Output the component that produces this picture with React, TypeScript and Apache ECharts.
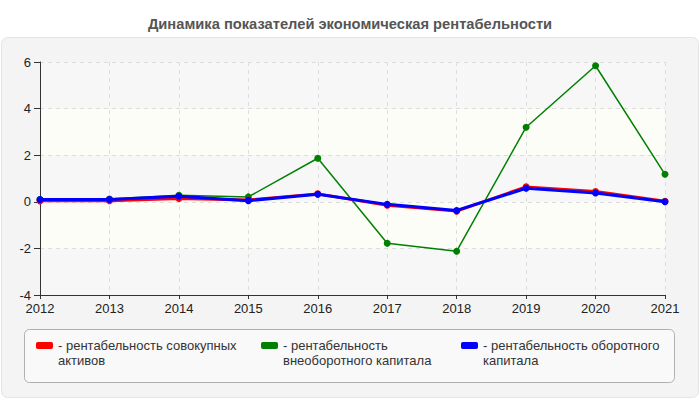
import { useEffect, useRef } from "react"
import * as echarts from "echarts"

const years = ["2012", "2013", "2014", "2015", "2016", "2017", "2018", "2019", "2020", "2021"]

const assetsReturn = [0.04, 0.05, 0.14, 0.08, 0.34, -0.15, -0.4, 0.64, 0.44, 0.02]
const fixedCapitalReturn = [0.1, 0.12, 0.28, 0.21, 1.87, -1.78, -2.12, 3.2, 5.84, 1.18]
const workingCapitalReturn = [0.1, 0.1, 0.24, 0.05, 0.32, -0.11, -0.37, 0.58, 0.38, 0.0]

const seriesNames = [
  "рентабельность совокупных активов",
  "рентабельность внеоборотного капитала",
  "рентабельность оборотного капитала",
]
const legendLabels = [
  " \n- рентабельность совокупных\nактивов",
  " \n- рентабельность\nвнеоборотного капитала",
  " \n- рентабельность оборотного\nкапитала",
]
const colors = ["#ff0000", "#008000", "#0000ff"]
const legendLeft = [31, 256, 456]

export default function App() {
  const chartRef = useRef<HTMLDivElement>(null)

  useEffect(() => {
    document.body.style.margin = "0"
    if (!chartRef.current) return
    const chart = echarts.init(chartRef.current, null, { renderer: "svg" })

    const font = "'Liberation Sans', Arial, sans-serif"

    // one legend per series so each item can sit where the reference has it
    const legends = seriesNames.map((name, i) => ({
      data: [name],
      left: legendLeft[i],
      top: 318,
      orient: "horizontal" as const,
      itemWidth: 17,
      itemHeight: 7,
      itemGap: 5,
      icon: "roundRect",
      selectedMode: false,
      formatter: () => legendLabels[i],
      textStyle: {
        color: "#333",
        fontSize: 13,
        fontFamily: font,
        lineHeight: 15,
      },
    }))

    const makeSeries = (name: string, data: number[], color: string, width: number, z: number) => ({
      name,
      type: "line" as const,
      data,
      z,
      symbol: "circle",
      symbolSize: 7,
      itemStyle: { color },
      lineStyle: { color, width },
    })

    const option: echarts.EChartsOption = {
      animation: false,
      backgroundColor: "#ffffff",
      textStyle: { fontFamily: font },
      title: {
        text: "Динамика показателей экономическая рентабельности",
        left: "center",
        top: 11,
        textStyle: {
          color: "#555",
          fontSize: 14.7,
          fontWeight: "bold",
          fontFamily: font,
        },
      },
      graphic: [
        {
          type: "rect",
          z: -10,
          silent: true,
          shape: { x: 1.5, y: 37.5, width: 697, height: 360, r: 6 },
          style: { fill: "#f4f4f4", stroke: "#e4e4e4", lineWidth: 1 },
        },
        {
          type: "rect",
          z: -9,
          silent: true,
          shape: { x: 24.5, y: 329.5, width: 650, height: 53, r: 5 },
          style: { fill: "#f9f9f9", stroke: "#b0b0b0", lineWidth: 1 },
        },
      ],
      legend: legends,
      grid: {
        left: 40,
        right: 35,
        top: 62,
        bottom: 105,
      },
      xAxis: {
        type: "category",
        boundaryGap: false,
        data: years,
        axisLine: { onZero: false, lineStyle: { color: "#333", width: 1 } },
        axisTick: { show: true, length: 4, lineStyle: { color: "#333" } },
        axisLabel: { color: "#222", fontSize: 13, margin: 7 },
        splitLine: {
          show: true,
          lineStyle: { color: "#dddddd", type: [4, 4] },
        },
      },
      yAxis: {
        type: "value",
        min: -4,
        max: 6,
        interval: 2,
        axisLine: { show: true, lineStyle: { color: "#333", width: 1 } },
        axisTick: { show: true, length: 6, lineStyle: { color: "#333" } },
        axisLabel: { color: "#222", fontSize: 13, margin: 9 },
        splitLine: {
          show: true,
          lineStyle: { color: "#dddddd", type: [4, 4] },
        },
        splitArea: {
          show: true,
          areaStyle: { color: ["#f7f7f7", "#fdfdf7"] },
        },
      },
      series: [
        makeSeries(seriesNames[1], fixedCapitalReturn, colors[1], 1.5, 2),
        makeSeries(seriesNames[0], assetsReturn, colors[0], 3, 3),
        makeSeries(seriesNames[2], workingCapitalReturn, colors[2], 3, 4),
      ],
    }

    chart.setOption(option)

    return () => {
      chart.dispose()
    }
  }, [])

  return <div ref={chartRef} style={{ width: "700px", height: "400px" }} />
}
